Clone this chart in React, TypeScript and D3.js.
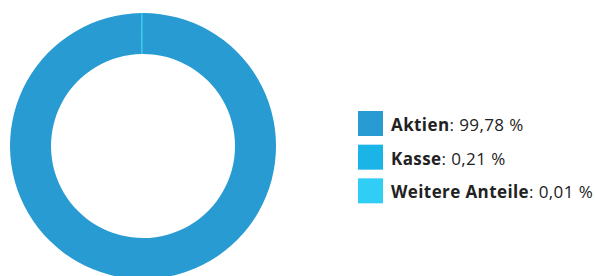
import React from 'react';
import * as d3 from 'd3';

const labels = ['Aktien', 'Kasse', 'Weitere Anteile'];
const values = [99.78, 0.21, 0.01];
const valueLabels = ['99,78 %', '0,21 %', '0,01 %'];
const colors = ['#289bd2', '#1ab5e6', '#30cdf5'];

const W = 595;
const H = 276;

export default function App() {
  const cx = 143;
  const cy = 146;
  const pie = d3.pie<number>().sort(null).value((d) => d);
  const arcs = pie(values);
  const arc = d3.arc<d3.PieArcDatum<number>>().innerRadius(92).outerRadius(133);

  const legendY = d3.scaleBand<string>().domain(labels).range([111, 212]).paddingInner(0);

  return (
    <svg width={W} height={H} style={{position: 'absolute', left: 0, top: 0}}>
      <g transform={`translate(${cx},${cy})`}>
        {arcs.map((a, i) => (
          <path key={i} d={arc(a) || ''} fill={colors[i]} />
        ))}
      </g>
      <g fontFamily="'Open Sans', sans-serif" fontSize={17} letterSpacing={0.4} fill="#222">
        {labels.map((l, i) => {
          const y = legendY(l)!;
          return (
            <g key={l} transform={`translate(358,${y})`}>
              <rect width={25} height={25} fill={colors[i]} />
              <text x={33} y={20}>
                <tspan fontWeight="bold">{l}</tspan>
                <tspan>: {valueLabels[i]}</tspan>
              </text>
            </g>
          );
        })}
      </g>
    </svg>
  );
}
